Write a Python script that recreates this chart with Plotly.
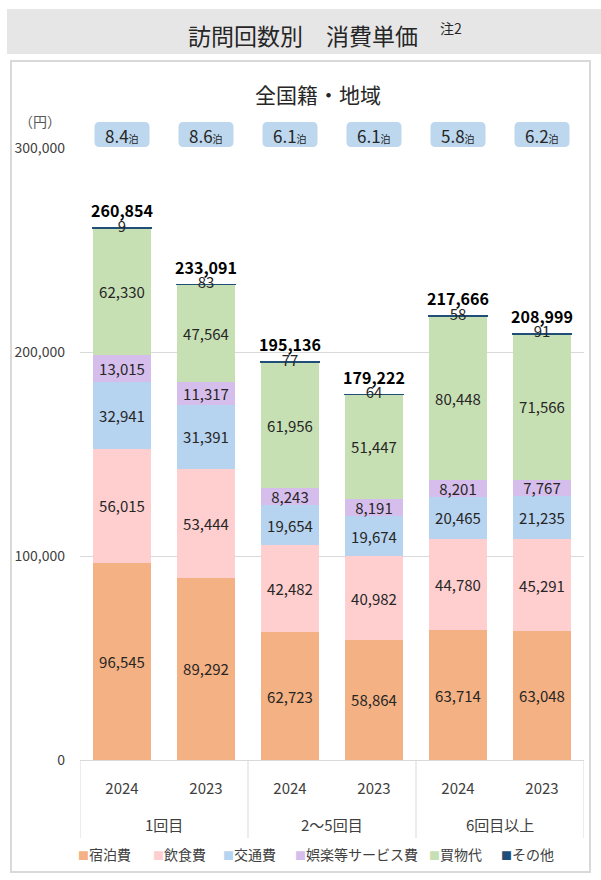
import plotly.graph_objects as go

# figure geometry (px)
W, H = 601, 880
ML, MR, MT, MB = 80, 17, 148, 120
PW, PH = W - ML - MR, H - MT - MB

FONT = 'Noto Sans CJK JP'
TXT = '#262626'

groups = ['1回目', '1回目', '2～5回目', '2～5回目', '6回目以上', '6回目以上']
years = ['2024', '2023', '2024', '2023', '2024', '2023']
nights = [8.4, 8.6, 6.1, 6.1, 5.8, 6.2]

stay = [96545, 89292, 62723, 58864, 63714, 63048]
food = [56015, 53444, 42482, 40982, 44780, 45291]
transport = [32941, 31391, 19654, 19674, 20465, 21235]
entertainment = [13015, 11317, 8243, 8191, 8201, 7767]
shopping = [62330, 47564, 61956, 51447, 80448, 71566]
other = [9, 83, 77, 64, 58, 91]
totals = [260854, 233091, 195136, 179222, 217666, 208999]

series_names = ['宿泊費', '飲食費', '交通費', '娯楽等サービス費', '買物代', 'その他']
series_vals = [stay, food, transport, entertainment, shopping, other]
colors = ['#F4B183', '#FFCFCF', '#B6D3EF', '#D6BEEC', '#C6E0B4', '#1F4E79']


def px_x(p):
    return (p - ML) / PW


def px_y(p):
    return (H - MB - p) / PH


# one unique category per bar, shown with the year as tick text
cats = [f'{g} {y}' for g, y in zip(groups, years)]

fig = go.Figure()

for name, vals, col in zip(series_names, series_vals, colors):
    if name == 'その他':
        fig.add_trace(go.Bar(x=cats, y=vals, name=name, marker_color=col,
                             marker_line=dict(color=col, width=1.5),
                             hoverinfo='skip'))
    else:
        fig.add_trace(go.Bar(x=cats, y=vals, name=name, marker_color=col,
                             marker_line_width=0,
                             text=[f'{v:,}' for v in vals],
                             textposition='inside', insidetextanchor='middle',
                             constraintext='none',
                             textfont=dict(family=FONT, size=15, color=TXT),
                             hoverinfo='skip'))

# その他 labels sit on the thin top line
fig.add_trace(go.Scatter(x=cats, y=totals, mode='text',
                         text=[f'{v:,}' for v in other],
                         textposition='middle center',
                         textfont=dict(family=FONT, size=15, color=TXT),
                         showlegend=False, hoverinfo='skip'))
# totals above bars (invisible marker pushes the text up a bit)
fig.add_trace(go.Scatter(x=cats, y=totals, mode='markers+text',
                         marker=dict(size=9, color='rgba(0,0,0,0)'),
                         text=[f'<b>{v:,}</b>' for v in totals],
                         textposition='top center',
                         textfont=dict(family=FONT, size=16, color='#000000'),
                         showlegend=False, hoverinfo='skip'))

shapes = []
annotations = []


def note(x, y, text, size, color=TXT, xref='paper', **kw):
    annotations.append(dict(xref=xref, yref='paper', x=x, y=y, text=text,
                            showarrow=False, xanchor=kw.pop('xanchor', 'center'),
                            yanchor='middle',
                            font=dict(family=FONT, size=size, color=color), **kw))


# title band
shapes.append(dict(type='rect', xref='paper', yref='paper', layer='below',
                   x0=px_x(7), x1=px_x(601), y0=px_y(54), y1=px_y(9),
                   fillcolor='#E7E6E6', line_width=0))
# panel border
shapes.append(dict(type='rect', xref='paper', yref='paper', layer='below',
                   x0=px_x(11), x1=px_x(590), y0=px_y(872), y1=px_y(61),
                   fillcolor='rgba(0,0,0,0)', line=dict(color='#D9D9D9', width=2)))

note(px_x(303), px_y(35), '訪問回数別\u3000消費単価', 23)
note(px_x(451), px_y(28), '注2', 14)
note(px_x(318), px_y(94), '全国籍・地域', 21)
note(px_x(40), px_y(121), '（円）', 14, '#595959')

# nights badges
bw, bh, r = 55, 25, 5
for i, n in enumerate(nights):
    x0, x1, y0, y1 = -bw / 2, bw / 2, 1, 1 + bh
    path = (f'M {x0 + r},{y0} L {x1 - r},{y0} Q {x1},{y0} {x1},{y0 + r} '
            f'L {x1},{y1 - r} Q {x1},{y1} {x1 - r},{y1} L {x0 + r},{y1} '
            f'Q {x0},{y1} {x0},{y1 - r} L {x0},{y0 + r} Q {x0},{y0} {x0 + r},{y0} Z')
    shapes.append(dict(type='path', xref='x', yref='paper',
                       xsizemode='pixel', ysizemode='pixel', xanchor=i, yanchor=1,
                       path=path, fillcolor='#BDD7EE', line_width=0, layer='below'))
    note(i, px_y(135), f"{n}<span style='font-size:10px'>泊</span>", 17, xref='x')

# group labels and dividers under the year ticks
group_names = list(dict.fromkeys(groups))
bounds = [-0.5]
for gname in group_names:
    idx = [i for i, g in enumerate(groups) if g == gname]
    note(sum(idx) / len(idx), px_y(824), gname, 15, '#404040', xref='x')
    bounds.append(idx[-1] + 0.5)
for b in bounds:
    shapes.append(dict(type='line', xref='x', yref='paper', x0=b, x1=b,
                       y0=px_y(838), y1=0, line=dict(color='#D9D9D9', width=1)))

# legend drawn as text items
legend_x = [76, 151, 221, 293, 427, 499]
for lx, name, col in zip(legend_x, series_names, colors):
    note(px_x(lx), px_y(854),
         f"<span style='color:{col};font-size:11px'>■</span>{name}",
         14, '#404040', xanchor='left')

fig.update_layout(
    width=W, height=H,
    margin=dict(l=ML, r=MR, t=MT, b=MB),
    barmode='stack', bargap=0.31,
    showlegend=False,
    paper_bgcolor='white', plot_bgcolor='white',
    font=dict(family=FONT, color='#404040'),
    uniformtext=dict(minsize=15, mode='show'),
    shapes=shapes, annotations=annotations,
    xaxis=dict(type='category', range=[-0.5, len(cats) - 0.5],
               tickvals=cats, ticktext=years,
               showline=True, linecolor='#D9D9D9', linewidth=1,
               ticks='outside', ticklen=15, tickcolor='rgba(0,0,0,0)',
               tickfont=dict(family=FONT, size=15, color='#404040'),
               showgrid=False),
    yaxis=dict(range=[0, 300000], dtick=100000, tickformat=',',
               showgrid=True, gridcolor='#D9D9D9', gridwidth=1,
               zeroline=False, showline=False, ticklabelstandoff=14,
               tickfont=dict(family=FONT, size=14, color='#404040')),
)

fig.write_html("out.html", config={'displayModeBar': False},
               post_script="document.body.style.margin='0';")
